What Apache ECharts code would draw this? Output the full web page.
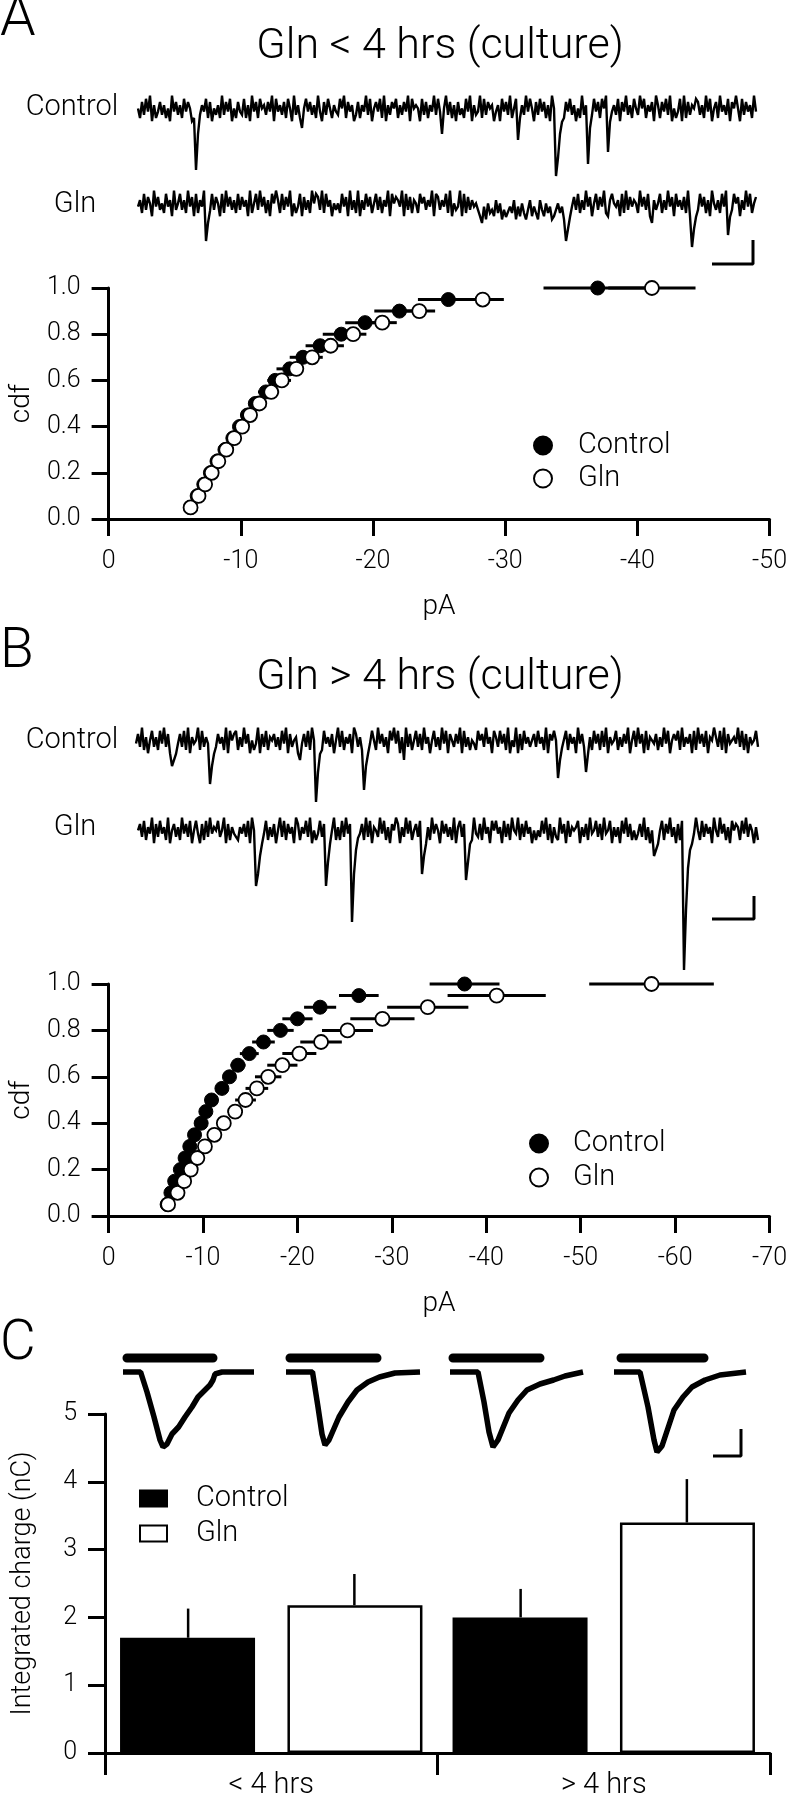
<!DOCTYPE html>
<html><head><meta charset="utf-8">
<script src="https://cdn.jsdelivr.net/npm/echarts/dist/echarts.min.js"></script>
<style>html,body{margin:0;padding:0;background:#fff}#chart{width:790px;height:1800px}</style>
</head><body><div id="chart"></div>
<script>
// ---------- DATA ----------
const cdfLevels = [0.05,0.10,0.15,0.20,0.25,0.30,0.35,0.40,0.45,0.50,0.55,0.60,0.65,0.70,0.75,0.80,0.85,0.90,0.95,1.00];

// Panel A (Gln < 4 hrs), amplitudes in pA
const ctrlA    = [-6.2,-6.7,-7.2,-7.7,-8.2,-8.8,-9.4,-9.9,-10.5,-11.1,-11.9,-12.6,-13.7,-14.7,-16.0,-17.6,-19.4,-22.0,-25.7,-37.0];
const ctrlSemA = [0.2,0.2,0.2,0.3,0.3,0.3,0.4,0.4,0.5,0.5,0.6,0.6,1.0,1.0,1.1,1.4,1.5,1.9,2.3,4.1];
const glnA     = [-6.2,-6.8,-7.3,-7.8,-8.3,-8.9,-9.5,-10.1,-10.7,-11.4,-12.3,-13.1,-14.2,-15.4,-16.8,-18.5,-20.7,-23.5,-28.3,-41.1];
const glnSemA  = [0.2,0.2,0.2,0.3,0.3,0.3,0.4,0.4,0.5,0.5,0.6,0.7,0.5,0.8,1.0,1.0,1.1,1.2,1.6,3.3];

// Panel B (Gln > 4 hrs)
const ctrlB    = [-6.2,-6.6,-7.0,-7.6,-8.1,-8.6,-9.1,-9.8,-10.3,-10.9,-12.0,-12.8,-13.7,-14.9,-16.4,-18.2,-20.0,-22.4,-26.5,-37.7];
const ctrlSemB = [0.2,0.2,0.3,0.3,0.3,0.4,0.4,0.5,0.5,0.6,0.6,0.7,0.8,1.0,1.2,1.4,1.6,1.7,2.1,3.7];
const glnB     = [-6.3,-7.3,-8.0,-8.7,-9.4,-10.2,-11.2,-12.2,-13.4,-14.5,-15.7,-16.9,-18.4,-20.2,-22.5,-25.3,-29.0,-33.8,-41.1,-57.5];
const glnSemB  = [0.2,0.3,0.3,0.4,0.4,0.5,0.6,0.7,0.8,1.1,1.2,1.4,1.6,1.8,2.2,2.7,3.4,4.3,5.2,6.6];

// Panel C (integrated charge, nC)
const chargeCats = ['< 4 hrs', '> 4 hrs'];
const ctrlC    = [1.70, 2.00];
const ctrlSemC = [0.43, 0.42];
const glnC     = [2.18, 3.40];
const glnSemC  = [0.46, 0.64];

// Recorded traces: one character per sample (digits = baseline noise level 0..9, letters = inward current depth a..z)
const traceCtrlA = ["5273849162","4736251947","362847512j","d364827153","6293748152","7438261947","2856374918","4637285193","62c5847362","9417385264","3859274613","7264938157","4829163758","2637491856","5183726493","84d5937261","7352849163","4928375614","6184739258","e263948517","384726195k","hdb2748361","52936ic384","72859gb463","8174936285","3958264719","6274839152","4819273658","7362948157","2946381759","5183746294"].join('');
const traceGlnA  = ["4628375194","7352846193","5836294718","2649fca837","5182947362","8374619258","3947261859","6283749152","4817362958","7392846153","5284719362","9163847258","3726491857","6491837265","2857364918","7364829153","4918273645","31c4052316","2503b14260","4152036142","0631524013","5240fdb473","8263947158","3749216854","6182937465","2947381c63","5826394718","4637291gdb","3847261953","62849eb385","7163948257"].join('');
const traceCtrlB = ["4739261583","62849371dc","b473829164","5928364gdb","3746291857","8263947152","4917382657","3628491735","61c4738295","jeb2846371","5938264719","7362hdb485","2947361859","4816c93725","8372946158","3629481753","7491836254","2857394618","6384729153","9172846357","3846291758","5fca382746","19473eb628","4728391645","8263749158","3947182654","7263948157","5829364718","2947381659","6382917456","493827164583"].join('');
const traceGlnB  = ["5738264917","3846291573","6294738158","4172839465","8359172643","264738195i","gdb4826371","5938274619","7264839152","4837ieb592","6283947ogc","a472938165","3948261759","7163948257","38gdb62947","5184736291","6837heb294","3729461858","4618372954","9273846152","5384927163","2947183656","8163729458","3729458163","6184937252","47392615dc","b582749361","728wmfcb49","5283746195","3947261857","62849375162"].join('');

// Evoked currents (panel C inset), [time, current]
const evoked1 = [[18,0],[35.6,0],[42,-20],[49,-45],[55,-68],[58,-75],[62,-72],[67,-62],[73.6,-55],[80,-45],[87,-35],[93,-25],[100,-18],[105,-13],[108,-8],[110,-2],[117,0],[149,0]];
const evoked2 = [[181,0],[207.5,0],[213,-35],[217,-62],[220,-73],[224,-68],[234,-45],[243,-30],[252,-18],[263,-10],[274.5,-5],[290,-1],[315,0]];
const evoked3 = [[345,0],[373,0],[379,-30],[384,-60],[388,-75],[393,-68],[404,-41],[413,-28],[422,-18],[435,-12],[448.6,-8],[460,-4],[478,0]];
const evoked4 = [[509,0],[535,0],[543,-35],[549,-68],[552,-80],[557,-74],[569,-38],[578,-25],[587,-15],[600,-8],[615,-3],[641,0]];
const stimBars = [[22,108],[185,272],[348,435],[516,599]];

// Scale bars (in each trace's own units)
const scaleBarA = [[287,-59],[307.5,-59],[307.5,-35]];
const scaleBarB = [[287,-87],[308,-87],[308,-64]];
const scaleBarC = [[608,-84],[636,-84],[636,-57]];

// ---------- HELPERS ----------
const NOISE_STEP = 3.2, SPIKE_STEP = 6;
function decodeTrace(code){
  const out = [];
  for (let i = 0; i < code.length; i++) {
    const c = code.charCodeAt(i);
    const v = (c >= 48 && c <= 57) ? (c - 48 - 4.5) * NOISE_STEP : -(c - 96) * SPIKE_STEP;
    out.push([i, v]);
  }
  return out;
}
const F = 'Roboto, "Liberation Sans", sans-serif';
const K = '#000';
const axLine = {show:true, onZero:false, lineStyle:{color:K, width:3}};
const axTick = {show:true, length:17, inside:false, lineStyle:{color:K, width:3}};
const hid = {show:false};

function hErr(xs, ys, sems){ return xs.map((x,i)=>[x, ys[i], sems[i]]); }
function hErrRender(params, api){
  const x = api.value(0), y = api.value(1), s = api.value(2);
  const a = api.coord([x - s, y]), b = api.coord([x + s, y]);
  return {type:'line', shape:{x1:a[0], y1:a[1], x2:b[0], y2:b[1]}, style:{stroke:K, lineWidth:3}};
}
function vErrRender(side){
  return function(params, api){
    const c = api.value(0), v = api.value(1), s = api.value(2);
    const bw = api.size([1, 0])[0];
    const p0 = api.coord([c, v]), p1 = api.coord([c, v + s]);
    const x = p0[0] + side * bw * 0.25;
    return {type:'line', shape:{x1:x, y1:p0[1], x2:x, y2:p1[1]}, style:{stroke:K, lineWidth:2.5}};
  };
}
function pairs(xs, ys){ return xs.map((x,i)=>[x, ys[i]]); }

function cdfX(grid, min){
  return {gridIndex:grid, type:'value', min:min, max:0, interval:10, inverse:true,
    axisLine:axLine, axisTick:axTick, splitLine:hid,
    axisLabel:{fontSize:25, color:K, margin:30, fontFamily:F, fontWeight:300},
    name:'pA', nameLocation:'middle', nameGap:74,
    nameTextStyle:{fontSize:28, color:K, fontFamily:F, fontWeight:300}};
}
function cdfY(grid){
  return {gridIndex:grid, type:'value', min:0, max:1, interval:0.2,
    axisLine:axLine, axisTick:axTick, splitLine:hid,
    axisLabel:{fontSize:25, color:K, margin:28, fontFamily:F, fontWeight:300, formatter:v=>v.toFixed(1)},
    name:'cdf', nameLocation:'middle', nameGap:68, nameRotate:90,
    nameTextStyle:{fontSize:28, color:K, fontFamily:F, fontWeight:300}};
}
function hiddenX(grid, max){ return {gridIndex:grid, type:'value', min:0, max:max, show:false}; }
function hiddenY(grid, min, max){ return {gridIndex:grid, type:'value', min:min, max:max, show:false}; }
function traceSeries(ax, code, w){
  return {type:'line', xAxisIndex:ax, yAxisIndex:ax, data:decodeTrace(code), symbol:'none',
    lineStyle:{color:K, width:w||2.4, join:'miter', miterLimit:3}, silent:true};
}
function lineSeries(ax, data, w, cap){
  return {type:'line', xAxisIndex:ax, yAxisIndex:ax, data:data, symbol:'none',
    lineStyle:{color:K, width:w, cap:cap||'butt'}, silent:true};
}
function legendFor(left, top, gap, pad, fs, iconType, w, h){
  const ctrlStyle = {color:K, borderColor:K, borderWidth:2, opacity:1};
  const glnStyle = {color:'#fff', borderColor:K, borderWidth:2, opacity:1};
  return {orient:'vertical', left:left, top:top, itemGap:gap, itemWidth:w, itemHeight:h, selectedMode:false,
    data:[{name:'Control', icon:iconType, itemStyle:ctrlStyle},{name:'Gln', icon:iconType, itemStyle:glnStyle}],
    textStyle:{fontSize:fs, color:K, fontFamily:F, fontWeight:300, padding:[0,0,0,pad]}};
}
function txt(x, y, s, size, align){
  return {type:'text', x:x, y:y, silent:true,
    style:{text:s, fill:K, font:'300 ' + size + 'px ' + F, align:align||'left', textAlign:align||'left', verticalAlign:'middle', textVerticalAlign:'middle'}};
}

const stimData = [];
stimBars.forEach((b,i)=>{ if (i) stimData.push(null); stimData.push([b[0],14],[b[1],14]); });

const filled = {color:K, borderColor:K, borderWidth:1, opacity:1};
const open = {color:'#fff', borderColor:K, borderWidth:1.8, opacity:1};

const option = {
  animation:false,
  backgroundColor:'#fff',
  textStyle:{fontFamily:F, fontWeight:300},
  grid:[
    {left:105, top:288, width:665, height:231},
    {left:105, top:984, width:666, height:232},
    {left:105, top:1414, width:665, height:344},
    {left:138, top:70, width:620, height:120},
    {left:138, top:165, width:620, height:120},
    {left:136, top:702, width:624, height:120},
    {left:138, top:792, width:622, height:190},
    {left:105, top:1352, width:665, height:140}
  ],
  xAxis:[
    cdfX(0, -50),
    cdfX(1, -70),
    {gridIndex:2, type:'category', data:chargeCats, axisLine:axLine,
      axisTick:{show:true, length:22, alignWithLabel:false, lineStyle:{color:K, width:3}},
      axisLabel:{fontSize:29, color:K, margin:18, fontFamily:F, fontWeight:300}},
    hiddenX(3, 310), hiddenX(4, 310), hiddenX(5, 312), hiddenX(6, 311), hiddenX(7, 665)
  ],
  yAxis:[
    cdfY(0), cdfY(1),
    {gridIndex:2, type:'value', min:0, max:5, interval:1, axisLine:axLine, axisTick:axTick, splitLine:hid,
      axisLabel:{fontSize:25, color:K, margin:28, fontFamily:F, fontWeight:300},
      name:'Integrated charge (nC)', nameLocation:'middle', nameGap:68, nameRotate:90,
      nameTextStyle:{fontSize:27, color:K, fontFamily:F, fontWeight:300}},
    hiddenY(3, -80, 40), hiddenY(4, -80, 40), hiddenY(5, -80, 40), hiddenY(6, -150, 40), hiddenY(7, -120, 20)
  ],
  legend:[
    legendFor(528, 426, 4, 21, 29, 'circle', 18, 18),
    legendFor(524, 1124, 5, 20, 29, 'circle', 18, 18),
    legendFor(134, 1479, 6, 24, 29, 'rect', 27, 16)
  ],
  graphic:[
    txt(0, 21, 'A', 57), txt(440, 47, 'Gln < 4 hrs (culture)', 43, 'center'),
    txt(72, 108, 'Control', 29, 'center'), txt(75, 205, 'Gln', 29, 'center'),
    txt(0, 653, 'B', 55), txt(440, 678, 'Gln > 4 hrs (culture)', 43, 'center'),
    txt(72, 741, 'Control', 29, 'center'), txt(75, 828, 'Gln', 29, 'center'),
    txt(0, 1345, 'C', 55)
  ],
  series:[
    // Panel A cdf
    {type:'custom', name:'Control SEM A', xAxisIndex:0, yAxisIndex:0, renderItem:hErrRender, data:hErr(ctrlA, cdfLevels, ctrlSemA), z:2, silent:true},
    {type:'custom', name:'Gln SEM A', xAxisIndex:0, yAxisIndex:0, renderItem:hErrRender, data:hErr(glnA, cdfLevels, glnSemA), z:2, silent:true},
    {type:'scatter', name:'Control', xAxisIndex:0, yAxisIndex:0, data:pairs(ctrlA, cdfLevels), symbol:'circle', symbolSize:14, itemStyle:filled, z:3},
    {type:'scatter', name:'Gln', xAxisIndex:0, yAxisIndex:0, data:pairs(glnA, cdfLevels), symbol:'circle', symbolSize:14, itemStyle:open, z:4},
    // Panel B cdf
    {type:'custom', name:'Control SEM B', xAxisIndex:1, yAxisIndex:1, renderItem:hErrRender, data:hErr(ctrlB, cdfLevels, ctrlSemB), z:2, silent:true},
    {type:'custom', name:'Gln SEM B', xAxisIndex:1, yAxisIndex:1, renderItem:hErrRender, data:hErr(glnB, cdfLevels, glnSemB), z:2, silent:true},
    {type:'scatter', name:'Control', xAxisIndex:1, yAxisIndex:1, data:pairs(ctrlB, cdfLevels), symbol:'circle', symbolSize:14, itemStyle:filled, z:3},
    {type:'scatter', name:'Gln', xAxisIndex:1, yAxisIndex:1, data:pairs(glnB, cdfLevels), symbol:'circle', symbolSize:14, itemStyle:open, z:4},
    // Panel C bars
    {type:'bar', name:'Control', xAxisIndex:2, yAxisIndex:2, data:ctrlC, barWidth:135, barGap:'24%', itemStyle:{color:K, borderColor:K, borderWidth:2.5, opacity:1}},
    {type:'bar', name:'Gln', xAxisIndex:2, yAxisIndex:2, data:glnC, barWidth:135, barGap:'24%', itemStyle:{color:'#fff', borderColor:K, borderWidth:2.5, opacity:1}},
    {type:'custom', name:'Control SEM C', xAxisIndex:2, yAxisIndex:2, renderItem:vErrRender(-1), data:ctrlC.map((v,i)=>[i, v, ctrlSemC[i]]), z:3, silent:true},
    {type:'custom', name:'Gln SEM C', xAxisIndex:2, yAxisIndex:2, renderItem:vErrRender(1), data:glnC.map((v,i)=>[i, v, glnSemC[i]]), z:3, silent:true},
    // Traces
    traceSeries(3, traceCtrlA), traceSeries(4, traceGlnA),
    traceSeries(5, traceCtrlB), traceSeries(6, traceGlnB),
    lineSeries(4, scaleBarA, 3), lineSeries(6, scaleBarB, 3),
    lineSeries(7, evoked1, 5.5), lineSeries(7, evoked2, 5.5), lineSeries(7, evoked3, 5.5), lineSeries(7, evoked4, 5.5),
    Object.assign(lineSeries(7, stimData, 9, 'round'), {connectNulls:false}),
    lineSeries(7, scaleBarC, 3)
  ]
};
const chart = echarts.init(document.getElementById('chart'), null, {renderer:'canvas', width:790, height:1800});
chart.setOption(option);
</script>
</body></html>
